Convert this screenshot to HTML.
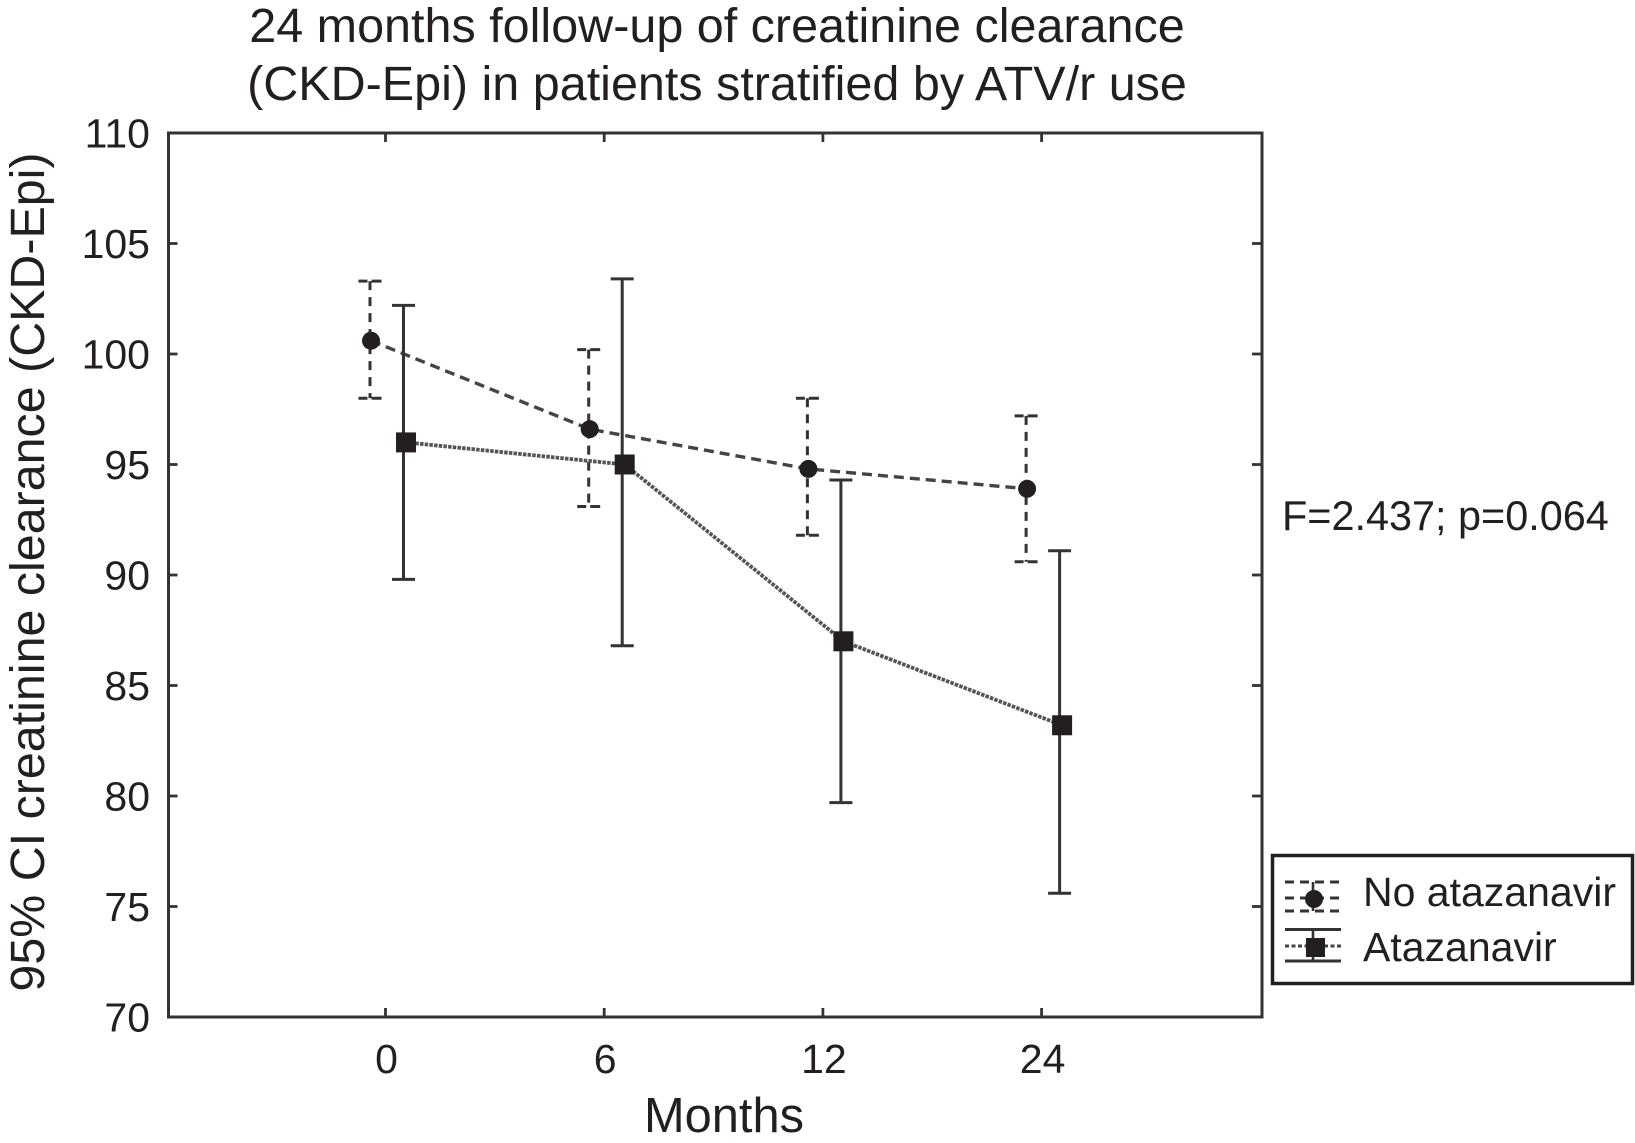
<!DOCTYPE html>
<html lang="en">
<head>
<meta charset="utf-8">
<title>24 months follow-up of creatinine clearance</title>
<style>
html,body{margin:0;padding:0;background:#fff;}
svg{display:block;}
text{font-family:"Liberation Sans",Arial,sans-serif;fill:#231f20;}
</style>
</head>
<body>
<svg id="chart" width="1635" height="1143" viewBox="0 0 1635 1143" xmlns="http://www.w3.org/2000/svg">
  <rect x="0" y="0" width="1635" height="1143" fill="#fff"/>
  <g font-size="48.5" text-anchor="middle">
    <text x="717" y="42">24 months follow-up of creatinine clearance</text>
    <text x="717" y="100">(CKD-Epi) in patients stratified by ATV/r use</text>
  </g>
  <text font-size="48.4" text-anchor="middle" transform="translate(44 572) rotate(-90)">95% CI creatinine clearance (CKD-Epi)</text>
  <text font-size="48.8" text-anchor="middle" x="724" y="1132">Months</text>
  <text font-size="41.4" x="1282" y="530">F=2.437; p=0.064</text>
  <rect x="168.5" y="133" width="1093.5" height="884" fill="none" stroke="#333" stroke-width="3"/>
  <g id="axes"></g>
  <g id="series"></g>
  <g>
    <rect x="1272.5" y="855.5" width="360" height="128" fill="#fff" stroke="#231f20" stroke-width="3.5"/>
    <g>
      <g stroke="#333" stroke-width="3" stroke-dasharray="9 6" fill="none">
        <line x1="1285" y1="882" x2="1341" y2="882"/>
        <line x1="1285" y1="898" x2="1341" y2="898"/>
        <line x1="1285" y1="911" x2="1341" y2="911"/>
      </g>
      <line x1="1313" y1="882" x2="1313" y2="911" stroke="#333" stroke-width="2.6"/>
      <circle cx="1314" cy="899" r="9" fill="#231f20"/>
      <text font-size="41" x="1363" y="906">No atazanavir</text>
    </g>
    <g>
      <line x1="1285" y1="929.5" x2="1341" y2="929.5" stroke="#333" stroke-width="3"/>
      <line x1="1285" y1="961" x2="1341" y2="961" stroke="#333" stroke-width="3"/>
      <line x1="1285" y1="946" x2="1341" y2="946" stroke="#444" stroke-width="3" stroke-dasharray="4 2.5"/>
      <line x1="1313" y1="929.5" x2="1313" y2="961" stroke="#333" stroke-width="2.6"/>
      <rect x="1306" y="938" width="19" height="19" fill="#231f20"/>
      <text font-size="41" x="1363" y="961">Atazanavir</text>
    </g>
  </g>
</svg>
<script>
const categories = ['0', '6', '12', '24'];
const yTicks = [70, 75, 80, 85, 90, 95, 100, 105, 110];

const noAtvMean = [100.6, 96.6, 94.8, 93.9];
const noAtvUpper = [103.3, 100.2, 98.0, 97.2];
const noAtvLower = [98.0, 93.1, 91.8, 90.6];

const atvMean = [96.0, 95.0, 87.0, 83.2];
const atvUpper = [102.2, 103.4, 94.3, 91.1];
const atvLower = [89.8, 86.8, 79.7, 75.6];

const NS = 'http://www.w3.org/2000/svg';
const plot = { left: 168.5, right: 1262, top: 133, bottom: 1017 };
const yMin = 70, yMax = 110;
const firstCatX = 385.5, catStep = 218.7;

function yScale(v) {
  return plot.bottom - (v - yMin) / (yMax - yMin) * (plot.bottom - plot.top);
}
function xScale(i) {
  return firstCatX + i * catStep;
}
function make(tag, parent, props) {
  const node = document.createElementNS(NS, tag);
  for (const k in props) node.setAttribute(k, props[k]);
  parent.appendChild(node);
  return node;
}

const axes = document.getElementById('axes');
const seriesLayer = document.getElementById('series');
const axisStyle = { stroke: '#333', 'stroke-width': 2.8 };

yTicks.forEach(function (t) {
  const y = yScale(t);
  if (t !== yMin && t !== yMax) {
    let el = make('line', axes, Object.assign({ x1: plot.left, x2: plot.left + 9, y1: y, y2: y }, axisStyle));
    
    
    el = make('line', axes, Object.assign({ x1: plot.right - 10, x2: plot.right, y1: y, y2: y }, axisStyle));
    
    
  }
  const label = make('text', axes, { x: 150, y: y + 14.5, 'font-size': 41, 'text-anchor': 'end' });
  label.textContent = String(t);
  
  
});

categories.forEach(function (c, i) {
  const x = xScale(i);
  let el = make('line', axes, Object.assign({ x1: x, x2: x, y1: plot.top, y2: plot.top + 9 }, axisStyle));
  
  
  el = make('line', axes, Object.assign({ x1: x, x2: x, y1: plot.bottom - 9, y2: plot.bottom }, axisStyle));
  
  
  const label = make('text', axes, { x: x + 1, y: 1073, 'font-size': 41, 'text-anchor': 'middle' });
  label.textContent = c;
  
  
});

function drawErrorBars(upper, lower, barOffset, dash, isDashed) {
  upper.forEach(function (u, i) {
    const x = xScale(i) + barOffset;
    const yU = yScale(u);
    const yL = yScale(lower[i]);
    const style = { stroke: '#333', 'stroke-width': 3, fill: 'none' };
    const dashStyle = dash ? { 'stroke-dasharray': dash } : {};
    let el = make('line', seriesLayer, Object.assign({ x1: x, x2: x, y1: yU, y2: yL }, style, dashStyle));
    
    
    el = make('line', seriesLayer, Object.assign({ x1: x - 11.5, x2: x + 11.5, y1: yU, y2: yU }, style, dash ? { 'stroke-dasharray': '9 4 10' } : {}));
    
    
    el = make('line', seriesLayer, Object.assign({ x1: x - 11.5, x2: x + 11.5, y1: yL, y2: yL }, style, dash ? { 'stroke-dasharray': '9 4 10' } : {}));
    
    
  });
}

function linePoints(values, offset) {
  return values.map(function (v, i) { return (xScale(i) + offset) + ',' + yScale(v); }).join(' ');
}

/* No atazanavir series */
drawErrorBars(noAtvUpper, noAtvLower, -15.5, '9 7', true);
const noAtvLine = make('polyline', seriesLayer, {
  points: linePoints(noAtvMean, -14.5), fill: 'none', stroke: '#444', 'stroke-width': 3.4, 'stroke-dasharray': '10 6'
});



/* Atazanavir series */
drawErrorBars(atvUpper, atvLower, 18, null, false);
const atvLine = make('polyline', seriesLayer, {
  points: linePoints(atvMean, 20.5), fill: 'none', stroke: '#555', 'stroke-width': 3.8, 'stroke-dasharray': '3.5 1.2'
});



noAtvMean.forEach(function (v, i) {
  const dot = make('circle', seriesLayer, { cx: xScale(i) - 14.5, cy: yScale(v), r: 9, fill: '#231f20' });
  
  
});
atvMean.forEach(function (v, i) {
  const sq = make('rect', seriesLayer, { x: xScale(i) + 20.5 - 10, y: yScale(v) - 10, width: 20, height: 20, fill: '#231f20' });
  
  
});
</script>
</body>
</html>
